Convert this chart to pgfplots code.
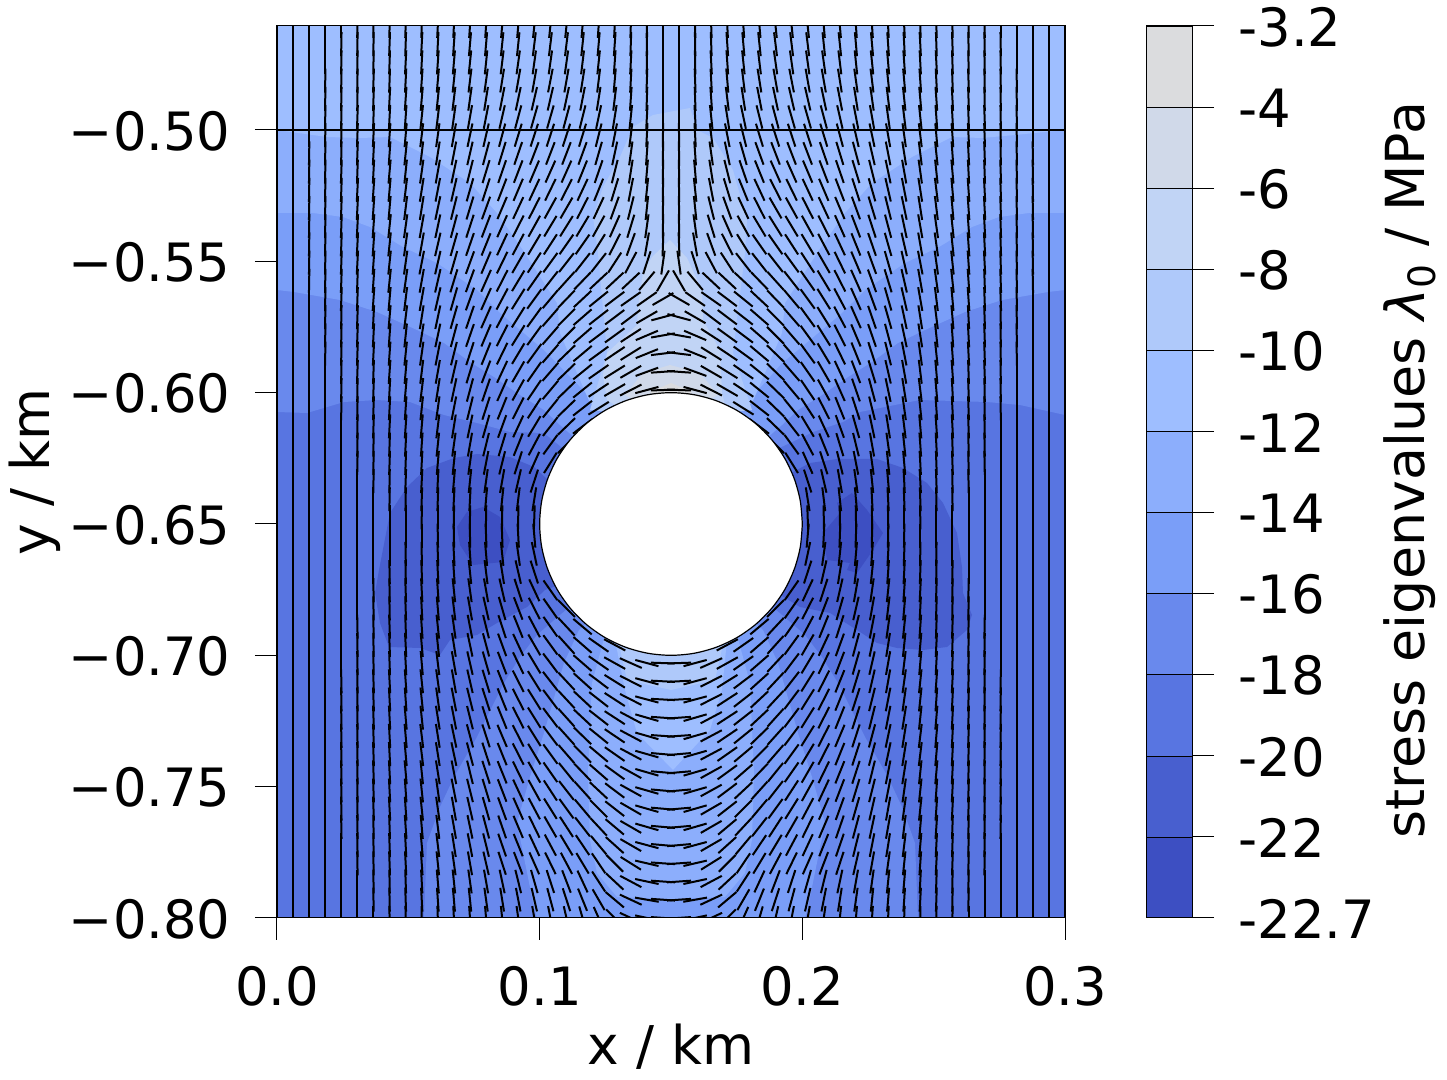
\documentclass[border=0pt]{standalone}
\usepackage{pgfplots}
\usepackage{pgfplotstable}
\pgfplotsset{compat=1.18}
\usepackage{fontspec}
\setmainfont{DejaVu Sans}
\definecolor{c0}{HTML}{3D4FC2}
\definecolor{c1}{HTML}{485FCF}
\definecolor{c2}{HTML}{5875E1}
\definecolor{c3}{HTML}{6989ED}
\definecolor{c4}{HTML}{7A9EF8}
\definecolor{c5}{HTML}{8CAEFC}
\definecolor{c6}{HTML}{9EBEFF}
\definecolor{c7}{HTML}{AFC9FA}
\definecolor{c8}{HTML}{C1D4F5}
\definecolor{c9}{HTML}{D0D9E9}
\definecolor{c10}{HTML}{DBDCDE}
% tilt of each stroke from the vertical, degrees: one row per grid row, left half of the grid; 999 = inside the hole
\pgfplotstableread{
j a1 a2 a3 a4 a5 a6 a7 a8 a9 a10 a11 a12 a13 a14 a15 a16 a17 a18 a19 a20 a21 a22 a23 a24 a25
0 0 0 0 0 0 1 1 1 2 2 3 3 4 4 5 5 6 6 6 5 4 3 2 1 0
1 0 0 0 0 1 1 1 2 2 3 3 4 5 5 6 6 7 7 7 6 5 4 2 1 0
2 0 0 0 0 1 1 1 2 3 3 4 5 6 6 7 8 8 8 8 7 6 4 3 1 0
3 0 0 0 1 1 1 2 2 3 4 5 6 7 8 9 10 10 11 10 9 7 5 3 2 0
4 0 0 0 1 1 1 2 3 4 5 6 7 8 9 11 12 13 13 12 11 9 7 4 2 0
5 0 0 0 1 1 2 2 3 4 6 7 8 10 11 13 15 16 16 15 14 12 9 6 3 0
6 0 0 0 1 1 2 3 4 5 7 8 10 12 13 15 17 18 18 18 17 14 11 7 3 1
7 0 0 1 1 1 2 3 4 6 7 9 11 13 15 17 19 21 21 21 20 16 12 8 4 1
8 0 0 1 1 2 2 3 5 6 8 10 12 14 17 19 21 23 24 24 22 19 14 9 5 1
9 0 0 1 1 2 3 4 5 7 9 11 13 16 18 21 23 25 26 27 25 22 17 11 6 1
10 0 0 1 1 2 3 4 5 7 9 12 14 17 20 23 25 27 29 30 27 25 20 14 6 1
11 0 0 1 1 2 3 4 6 8 10 12 15 18 21 24 27 29 31 32 31 29 24 17 8 1
12 0 0 1 1 2 3 4 6 8 10 13 16 19 22 25 28 31 33 35 35 32 27 20 10 2
13 0 0 1 1 2 3 4 6 8 11 13 16 20 23 26 30 33 36 38 38 38 33 28 18 8
14 0 0 1 1 2 2 4 6 8 10 13 17 20 24 27 31 35 38 42 44 47 47 47 40 30
15 0 0 0 1 2 2 4 5 7 10 13 16 20 24 28 32 36 40 44 47 51 53 55 55 60
16 0 0 0 1 1 2 3 5 7 9 12 16 19 24 28 32 36 41 45 49 52 53 53 60 75
17 0 0 0 1 1 2 3 4 6 9 12 15 19 23 27 32 36 41 45 49 53 54 57 67 80
18 0 0 0 1 1 2 3 4 6 8 11 14 18 22 26 31 36 41 46 50 54 56 58 68 83
19 0 0 0 0 1 2 2 4 5 7 10 13 17 21 25 30 35 41 46 51 55 58 60 70 86
20 0 0 0 0 1 1 2 3 5 7 9 12 15 19 24 29 34 40 46 51 56 60 63 75 88
21 0 0 0 0 1 1 2 3 4 6 8 11 14 18 22 27 33 39 46 52 58 999 999 999 999
22 0 0 0 0 0 1 2 3 4 5 7 9 12 16 20 25 31 38 46 53 999 999 999 999 999
23 0 0 0 0 0 1 1 2 3 4 6 8 10 14 17 22 28 36 45 999 999 999 999 999 999
24 0 0 0 0 0 1 1 2 2 3 5 6 8 11 14 18 24 32 999 999 999 999 999 999 999
25 0 0 0 0 0 0 1 1 2 3 3 5 6 8 10 13 18 999 999 999 999 999 999 999 999
26 0 0 0 0 0 0 0 1 1 2 2 3 3 5 6 7 9 999 999 999 999 999 999 999 999
27 0 0 0 0 0 0 0 0 0 1 0 1 1 1 1 1 2 999 999 999 999 999 999 999 999
28 0 0 0 0 0 0 0 0 0 0 -1 -1 -1 -2 -2 -3 -5 999 999 999 999 999 999 999 999
29 0 0 0 0 0 0 0 0 -1 -1 -2 -3 -4 -5 -6 -8 -12 999 999 999 999 999 999 999 999
30 0 0 0 0 0 0 0 -1 -1 -2 -3 -4 -6 -7 -9 -13 -18 999 999 999 999 999 999 999 999
31 0 0 0 0 0 0 -1 -1 -2 -3 -4 -6 -8 -10 -13 -18 -25 -35 999 999 999 999 999 999 999
32 0 0 0 0 0 0 -1 -1 -2 -3 -5 -7 -10 -13 -16 -21 -27 -35 -45 999 999 999 999 999 999
33 0 0 0 0 0 -1 -1 -2 -2 -4 -6 -8 -11 -14 -18 -22 -28 -35 -43 -50 999 999 999 999 999
34 0 0 0 0 0 -1 -1 -2 -3 -5 -6 -9 -12 -15 -20 -25 -30 -36 -42 -49 -55 -62 999 999 999
35 0 0 0 0 0 -1 -1 -2 -3 -5 -7 -10 -13 -16 -21 -26 -31 -37 -43 -49 -55 -61 -66 -75 -88
36 0 0 0 0 -1 -1 -2 -3 -4 -6 -8 -10 -13 -17 -22 -27 -32 -38 -43 -48 -53 -58 -63 -75 -87
37 0 0 0 0 -1 -1 -2 -3 -4 -6 -8 -11 -14 -18 -22 -27 -32 -37 -43 -47 -52 -57 -63 -75 -87
38 0 0 0 0 -1 -1 -2 -3 -5 -6 -9 -11 -14 -18 -22 -27 -32 -37 -42 -47 -52 -57 -62 -74 -86
39 0 0 0 0 -1 -1 -2 -3 -5 -7 -9 -12 -15 -18 -23 -27 -32 -37 -42 -46 -51 -56 -62 -74 -86
40 0 0 0 0 -1 -1 -2 -3 -5 -7 -9 -12 -15 -18 -22 -27 -31 -36 -41 -45 -50 -55 -62 -74 -85
41 0 0 0 0 -1 -1 -2 -3 -5 -6 -9 -11 -14 -18 -22 -26 -30 -35 -39 -44 -49 -54 -61 -74 -85
42 0 0 0 0 -1 -1 -2 -3 -4 -6 -8 -11 -14 -17 -21 -25 -29 -33 -38 -42 -47 -53 -61 -74 -85
43 0 0 0 0 -1 -1 -2 -3 -4 -6 -8 -10 -13 -16 -20 -24 -28 -32 -36 -40 -45 -52 -60 -74 -85
44 0 0 0 0 -1 -1 -1 -2 -4 -5 -7 -10 -12 -15 -19 -23 -26 -30 -33 -38 -43 -50 -60 -74 -85
45 0 0 0 0 0 -1 -1 -2 -3 -5 -7 -9 -11 -14 -19 -22 -25 -28 -31 -34 -40 -48 -60 -75 -85
46 0 0 0 0 0 -1 -1 -2 -3 -4 -6 -8 -10 -13 -18 -21 -24 -26 -28 -31 -34 -45 -58 -77 -86
47 0 0 0 0 0 0 -1 -1 -2 -3 -5 -6 -8 -10 -12 -14 -16 -18 -21 -25 -33 -47 -62 -78 -86
48 0 0 0 0 0 0 -1 -1 -2 -3 -4 -5 -6 -8 -9 -11 -13 -15 -18 -22 -30 -50 -65 -80 -86
49 0 0 0 0 0 0 0 -1 -1 -1 -2 -3 -4 -5 -6 -8 -10 -11 -13 -16 -24 -45 -65 -78 -86
}\tilt
% a filled contour band, outline given as picture-pixel pairs
\newcommand\band[2]{\addplot[fill=#1,draw=none,forget plot] table[row sep=\\,x expr=(\thisrow{a}-277)/2626.67,y expr=-0.5-(\thisrow{b}-130)/2626.67] {a b\\#2\\} --cycle;}
\begin{document}
\begin{tikzpicture}
\path[use as bounding box] (0,0) rectangle (723.5pt,540pt);
\begin{axis}[
  at={(138.5pt,81pt)},anchor=south west,scale only axis,width=394pt,height=446pt,
  xmin=0,xmax=0.3,ymin=-0.8,ymax=-0.4604,
  xtick={0,0.1,0.2,0.3},xticklabels={0.0,0.1,0.2,0.3},
  ytick={-0.8,-0.75,-0.7,-0.65,-0.6,-0.55,-0.5},
  yticklabels={−0.80,−0.75,−0.70,−0.65,−0.60,−0.55,−0.50},
  xtick pos=bottom,ytick pos=left,tick align=outside,major tick length=11pt,
  tick style={black,line width=0.5pt},axis line style={black,line width=0.5pt},
  tick label style={font=\fontsize{26.4}{30}\selectfont,inner sep=0pt},
  xticklabel style={yshift=-13pt},yticklabel style={xshift=-12pt,yshift=-0.5pt},
  xlabel={x / km},ylabel={y / km},
  every axis x label/.style={at={(axis description cs:0.5,-0.1446)},anchor=center,font=\fontsize{26.7}{30}\selectfont},
  every axis y label/.style={at={(axis description cs:-0.307,0.5)},anchor=center,rotate=90,font=\fontsize{26.7}{30}\selectfont},
  clip marker paths=true,
  axis on top,
]
\band{c2}{277 26\\1065 26\\1065 918\\277 918}
\band{c1}{379 570\\390 513\\407 487\\427 468\\454 458\\477 454\\510 457\\534 467\\548 480\\600 520\\600 570\\545 590\\527 607\\497 623\\477 635\\450 640\\440 655\\420 648\\389 647\\380 623\\375 593}
\band{c1}{810 463\\837 459\\877 459\\903 468\\927 483\\943 503\\957 533\\962 567\\963 593\\972 615\\967 630\\947 647\\923 650\\897 648\\877 643\\857 630\\830 613\\800 607\\740 570\\740 500}
\band{c0}{457 527\\467 512\\483 507\\500 517\\510 540\\503 562\\473 565\\460 545}
\band{c0}{837 503\\852 493\\867 510\\883 533\\873 550\\857 573\\847 570\\850 563\\827 560\\823 533\\840 513}
\band{c3}{277 26\\1065 26\\1065 415\\1020 405\\987 402\\920 400\\860 412\\843 422\\813 432\\790 443\\775 450\\671 500\\565 450\\544 433\\510 432\\477 423\\444 415\\410 402\\377 400\\344 402\\307 413\\277 412}
\band{c3}{424 918\\427 843\\440 807\\454 777\\477 737\\504 683\\520 657\\537 635\\560 615\\590 590\\671 600\\752 590\\782 615\\805 635\\822 657\\838 683\\865 737\\888 777\\902 807\\915 843\\918 918}
\band{c4}{277 26\\1065 26\\1065 290\\1048 292\\1002 300\\965 312\\925 330\\898 343\\872 362\\848 377\\822 395\\798 410\\782 425\\767 438\\671 480\\575 438\\560 425\\544 410\\520 395\\494 377\\470 362\\444 343\\417 330\\377 312\\340 300\\294 292\\277 290}
\band{c4}{537 918\\534 907\\517 823\\530 777\\544 733\\564 663\\579 630\\600 610\\671 620\\742 610\\763 630\\778 663\\798 733\\812 777\\825 823\\808 907\\805 918}
\band{c5}{277 26\\1065 26\\1065 213\\1029 213\\999 217\\972 227\\939 247\\905 263\\865 290\\842 313\\798 350\\782 363\\752 397\\732 412\\671 450\\610 412\\590 397\\544 350\\500 313\\477 290\\437 263\\403 247\\370 227\\343 217\\313 213\\277 213}
\band{c5}{605 635\\592 683\\588 773\\590 840\\597 873\\617 897\\671 899\\725 897\\745 873\\752 840\\754 773\\750 683\\737 635}
\band{c6}{277 26\\1065 26\\1065 130\\1015 135\\982 138\\952 137\\912 157\\872 183\\845 213\\819 250\\785 303\\782 333\\765 373\\752 403\\732 412\\671 450\\610 412\\590 403\\577 373\\560 333\\557 303\\523 250\\497 213\\470 183\\430 157\\390 137\\360 138\\327 137\\277 130}
\band{c6}{615 640\\625 690\\637 733\\673 770\\710 730\\722 690\\727 640}
\band{c7}{633 127\\653 115\\690 108\\697 130\\713 138\\733 170\\747 220\\745 253\\733 353\\752 410\\732 412\\671 450\\610 412\\590 410\\607 353\\598 253\\593 217\\603 187\\620 157}
\band{c7}{618 640\\627 680\\671 690\\715 680\\724 640}
\band{c8}{670 240\\652 257\\643 273\\638 307\\637 325\\607 353\\603 375\\607 400\\671 440\\725 405\\722 393\\720 350\\703 320\\702 290\\687 258}
\band{c9}{625 395\\643 373\\670 365\\700 373\\718 395\\671 420}
\band{c10}{650 392\\671 383\\692 392\\671 410}
\pgfplotsinvokeforeach{1,...,25}{
  \addplot[forget plot,scatter,only marks,mark=|,mark size=6pt,
    restrict expr to domain={\thisrow{a#1}}{-200:200},
    visualization depends on={\thisrow{a#1} \as \tiltv},
    scatter/@pre marker code/.code={\scope[rotate=-\tiltv,black,line width=1pt]},
    scatter/@post marker code/.code={\endscope}]
    table[x expr={(#1-1)*0.0061224},y expr={-0.4604-\thisrow{j}*0.00693}] {\tilt};
  \addplot[forget plot,scatter,only marks,mark=|,mark size=6pt,
    restrict expr to domain={\thisrow{a#1}}{-200:200},
    visualization depends on={\thisrow{a#1} \as \tiltv},
    scatter/@pre marker code/.code={\scope[rotate=\tiltv,black,line width=1pt]},
    scatter/@post marker code/.code={\endscope}]
    table[x expr={0.3-(#1-1)*0.0061224},y expr={-0.4604-\thisrow{j}*0.00693}] {\tilt};
}
\addplot[black,line width=0.6pt,forget plot] coordinates {(0,-0.5)(0.3,-0.5)};
\addplot[fill=white,draw=black,line width=0.6pt,smooth,forget plot]
  table[x expr=\thisrow{a}+0.15,y expr=\thisrow{b}-0.65] {
a b
0.05 0
0.04924 0.00868
0.04698 0.0171
0.0433 0.025
0.0383 0.03214
0.03214 0.0383
0.025 0.0433
0.0171 0.04698
0.00868 0.04924
0 0.05
-0.00868 0.04924
-0.0171 0.04698
-0.025 0.0433
-0.03214 0.0383
-0.0383 0.03214
-0.0433 0.025
-0.04698 0.0171
-0.04924 0.00868
-0.05 0
-0.04924 -0.00868
-0.04698 -0.0171
-0.0433 -0.025
-0.0383 -0.03214
-0.03214 -0.0383
-0.025 -0.0433
-0.0171 -0.04698
-0.00868 -0.04924
0 -0.05
0.00868 -0.04924
0.0171 -0.04698
0.025 -0.0433
0.03214 -0.0383
0.0383 -0.03214
0.0433 -0.025
0.04698 -0.0171
0.04924 -0.00868
0.05 0
} --cycle;
\end{axis}
\begin{axis}[
  at={(573pt,81pt)},anchor=south west,scale only axis,width=23pt,height=446pt,
  xmin=0,xmax=1,ymin=0,ymax=11,xtick=\empty,
  ytick={0,...,11},
  yticklabels={-22.7,-22,-20,-18,-16,-14,-12,-10,-8,-6,-4,-3.2},
  ytick pos=right,yticklabel pos=right,tick align=outside,major tick length=11pt,
  tick style={black,line width=0.5pt},axis line style={black,line width=0.5pt},
  tick label style={font=\fontsize{26.4}{30}\selectfont,inner sep=0pt},
  yticklabel style={xshift=12pt,yshift=-0.5pt},
  ylabel={stress eigenvalues {\itshape λ}\textsubscript{0} / MPa},
  every axis y label/.style={at={(axis description cs:5.74,0.502)},anchor=center,rotate=90,font=\fontsize{26.9}{30}\selectfont},
  axis on top,
]
\addplot[fill=c0,draw=black,line width=0.3pt,forget plot] coordinates {(0,0)(1,0)(1,1)(0,1)} --cycle;
\addplot[fill=c1,draw=black,line width=0.3pt,forget plot] coordinates {(0,1)(1,1)(1,2)(0,2)} --cycle;
\addplot[fill=c2,draw=black,line width=0.3pt,forget plot] coordinates {(0,2)(1,2)(1,3)(0,3)} --cycle;
\addplot[fill=c3,draw=black,line width=0.3pt,forget plot] coordinates {(0,3)(1,3)(1,4)(0,4)} --cycle;
\addplot[fill=c4,draw=black,line width=0.3pt,forget plot] coordinates {(0,4)(1,4)(1,5)(0,5)} --cycle;
\addplot[fill=c5,draw=black,line width=0.3pt,forget plot] coordinates {(0,5)(1,5)(1,6)(0,6)} --cycle;
\addplot[fill=c6,draw=black,line width=0.3pt,forget plot] coordinates {(0,6)(1,6)(1,7)(0,7)} --cycle;
\addplot[fill=c7,draw=black,line width=0.3pt,forget plot] coordinates {(0,7)(1,7)(1,8)(0,8)} --cycle;
\addplot[fill=c8,draw=black,line width=0.3pt,forget plot] coordinates {(0,8)(1,8)(1,9)(0,9)} --cycle;
\addplot[fill=c9,draw=black,line width=0.3pt,forget plot] coordinates {(0,9)(1,9)(1,10)(0,10)} --cycle;
\addplot[fill=c10,draw=black,line width=0.3pt,forget plot] coordinates {(0,10)(1,10)(1,11)(0,11)} --cycle;
\end{axis}
\end{tikzpicture}
\end{document}
